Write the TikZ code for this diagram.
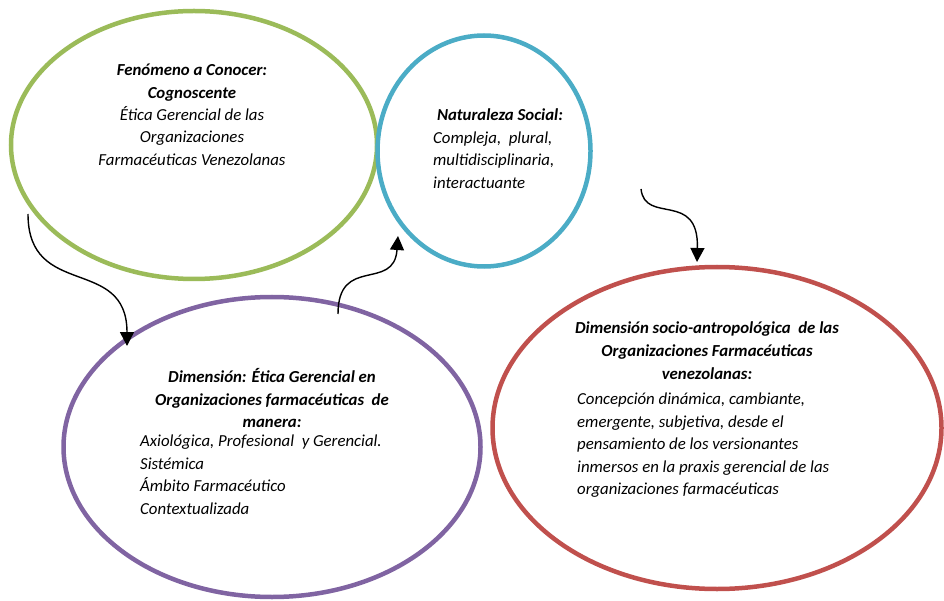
\documentclass[tikz,border=0pt]{standalone}
\usepackage{fontspec}
\setmainfont{Carlito}
\usetikzlibrary{arrows.meta,shapes.geometric}
\definecolor{leafgreen}{HTML}{9BBB59}
\definecolor{aqua}{HTML}{4BACC6}
\definecolor{plum}{HTML}{8064A2}
\definecolor{brick}{HTML}{C0504D}

\begin{document}
\begin{tikzpicture}[x=1pt, y=-1pt,
  every node/.style={inner sep=0pt},
  bodytxt/.style={font=\fontsize{16.8}{22.4}\selectfont\itshape},
  headtxt/.style={font=\fontsize{16.8}{22.8}\selectfont\bfseries\itshape},
  oval/.style={ellipse, draw, line width=4.5pt, fill=none},
  flow/.style={-{Triangle[length=14pt, width=14pt]}, line width=1.4pt, black},
]
\useasboundingbox (0,0) rectangle (944,601);

% Ovals
\node[oval, draw=leafgreen, minimum width=366pt, minimum height=268pt] (fenomeno) at (194,145) {};
\node[oval, draw=aqua, minimum width=213pt, minimum height=231pt] (naturaleza) at (484,151) {};
\node[oval, draw=plum, minimum width=417pt, minimum height=300pt] (etica) at (272,447) {};
\node[oval, draw=brick, minimum width=449pt, minimum height=322pt] (socio) at (717,428) {};

% Texts in the green oval
\node[bodytxt, align=center, anchor=north] (fenomenoTxt) at (192,64) {%
  \textbf{Fenómeno a Conocer:}\\
  \textbf{Cognoscente}\\
  Ética Gerencial de las\\
  Organizaciones\\
  Farmacéuticas Venezolanas};

% Texts in the blue oval
\node[bodytxt, align=left, anchor=north west] (naturalezaTxt) at (433,109) {%
  \textbf{\ Naturaleza Social:}\\
  Compleja,\ \ plural,\\
  multidisciplinaria,\\
  interactuante};

% Texts in the purple oval
\node[headtxt, align=center, anchor=north] (eticaTit) at (272,368) {%
  Dimensión: Ética Gerencial en\\
  Organizaciones farmacéuticas\ \ de\\
  manera:};
\node[bodytxt, align=left, anchor=north west] (eticaTxt) at (140,435) {%
  Axiológica, Profesional\ \ y Gerencial.\\
  Sistémica\\
  Ámbito Farmacéutico\\
  Contextualizada};

% Texts in the red oval
\node[headtxt, align=center, anchor=north] (socioTit) at (707,322) {%
  Dimensión socio-antropológica\ \ de las\\
  Organizaciones Farmacéuticas\\
  venezolanas:};
\node[bodytxt, align=left, anchor=north west] (socioTxt) at (577,393) {%
  Concepción dinámica, cambiante,\\
  emergente, subjetiva, desde el\\
  pensamiento de los versionantes\\
  inmersos en la praxis gerencial de las\\
  organizaciones farmacéuticas};

% Connector ends
\coordinate (a1) at (28,214);
\coordinate (a2) at (127,346);
\coordinate (b1) at (338,314);
\coordinate (b2) at (398,236);
\coordinate (c1) at (641,189);
\coordinate (c2) at (697,262);

% Curved arrows
\draw[flow] (a1) .. controls (28,300) and (127,255) .. (a2);
\draw[flow] (b1) .. controls (338,255) and (394,292) .. (b2);
\draw[flow] (c1) .. controls (645,225) and (699,190) .. (c2);

\end{tikzpicture}
\end{document}
